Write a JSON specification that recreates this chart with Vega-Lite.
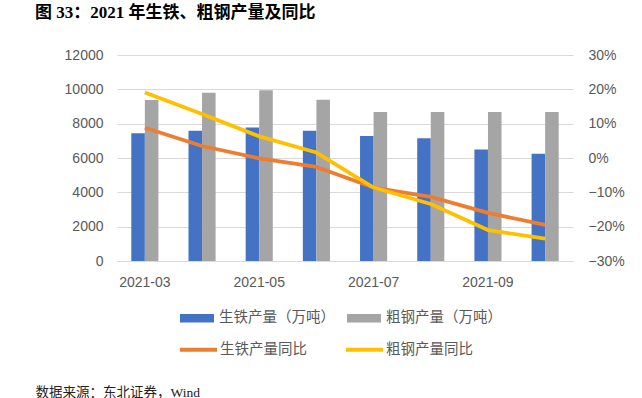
{
  "$schema": "https://vega.github.io/schema/vega-lite/v6.json",
  "width": 456,
  "height": 206,
  "autosize": "none",
  "padding": {"left": 117, "top": 55, "right": 69, "bottom": 137},
  "background": "white",
  "config": {
    "view": {"stroke": null},
    "axis": {"labelColor": "#595959", "labelFont": "Liberation Sans", "labelFontSize": 14, "ticks": false, "gridColor": "#d9d9d9", "domainColor": "#d9d9d9"},
    "legend": {"labelFont": "Noto Sans CJK SC", "labelFontSize": 14.5, "labelColor": "#595959"}
  },
  "title": {
    "text": "图 33：2021 年生铁、粗钢产量及同比",
    "anchor": "start",
    "frame": "group",
    "dx": -82,
    "offset": 26,
    "font": "Liberation Serif, Noto Sans CJK SC",
    "fontSize": 17,
    "fontWeight": "bold",
    "color": "#000000"
  },
  "datasets": {
    "prod": [
      {"month": "2021-03", "series": "生铁产量（万吨）", "value": 7440},
      {"month": "2021-04", "series": "生铁产量（万吨）", "value": 7590},
      {"month": "2021-05", "series": "生铁产量（万吨）", "value": 7770},
      {"month": "2021-06", "series": "生铁产量（万吨）", "value": 7590},
      {"month": "2021-07", "series": "生铁产量（万吨）", "value": 7280},
      {"month": "2021-08", "series": "生铁产量（万吨）", "value": 7150},
      {"month": "2021-09", "series": "生铁产量（万吨）", "value": 6500},
      {"month": "2021-10", "series": "生铁产量（万吨）", "value": 6250},
      {"month": "2021-03", "series": "粗钢产量（万吨）", "value": 9380},
      {"month": "2021-04", "series": "粗钢产量（万吨）", "value": 9800},
      {"month": "2021-05", "series": "粗钢产量（万吨）", "value": 9950},
      {"month": "2021-06", "series": "粗钢产量（万吨）", "value": 9390},
      {"month": "2021-07", "series": "粗钢产量（万吨）", "value": 8680},
      {"month": "2021-08", "series": "粗钢产量（万吨）", "value": 8680},
      {"month": "2021-09", "series": "粗钢产量（万吨）", "value": 8680},
      {"month": "2021-10", "series": "粗钢产量（万吨）", "value": 8680}
    ],
    "yoy": [
      {"month": "2021-03", "series": "生铁产量同比", "value": 0.088},
      {"month": "2021-04", "series": "生铁产量同比", "value": 0.035},
      {"month": "2021-05", "series": "生铁产量同比", "value": -0.001},
      {"month": "2021-06", "series": "生铁产量同比", "value": -0.026},
      {"month": "2021-07", "series": "生铁产量同比", "value": -0.086},
      {"month": "2021-08", "series": "生铁产量同比", "value": -0.113},
      {"month": "2021-09", "series": "生铁产量同比", "value": -0.160},
      {"month": "2021-10", "series": "生铁产量同比", "value": -0.195},
      {"month": "2021-03", "series": "粗钢产量同比", "value": 0.191},
      {"month": "2021-04", "series": "粗钢产量同比", "value": 0.128},
      {"month": "2021-05", "series": "粗钢产量同比", "value": 0.063},
      {"month": "2021-06", "series": "粗钢产量同比", "value": 0.016},
      {"month": "2021-07", "series": "粗钢产量同比", "value": -0.086},
      {"month": "2021-08", "series": "粗钢产量同比", "value": -0.134},
      {"month": "2021-09", "series": "粗钢产量同比", "value": -0.210},
      {"month": "2021-10", "series": "粗钢产量同比", "value": -0.235}
    ]
  },
  "layer": [
    {
      "data": {"name": "prod"},
      "mark": {"type": "bar"},
      "encoding": {
        "x": {
          "field": "month", "type": "nominal",
          "scale": {"paddingInner": 0.526, "paddingOuter": 0.25},
          "axis": {
            "values": ["2021-03", "2021-05", "2021-07", "2021-09"],
            "labelAngle": 0, "labelPadding": 14, "grid": false, "domain": true,
            "title": "数据来源：东北证券，Wind",
            "titleFont": "Liberation Serif, Noto Sans CJK SC",
            "titleFontSize": 13.5, "titleFontWeight": "normal", "titleColor": "#222222",
            "titleAnchor": "start", "titleAlign": "left", "titleBaseline": "alphabetic",
            "titleX": -82, "titleY": 135
          }
        },
        "xOffset": {"field": "series", "type": "nominal", "sort": ["生铁产量（万吨）", "粗钢产量（万吨）"]},
        "y": {
          "field": "value", "type": "quantitative",
          "scale": {"domain": [0, 12000]},
          "axis": {"values": [0, 2000, 4000, 6000, 8000, 10000, 12000], "format": "d", "title": null, "domain": false, "labelPadding": 14, "grid": true}
        },
        "color": {
          "field": "series", "type": "nominal",
          "scale": {"domain": ["生铁产量（万吨）", "粗钢产量（万吨）"], "range": ["#4472C4", "#A5A5A5"]},
          "legend": {
            "orient": "none", "legendX": 62, "legendY": 245, "direction": "horizontal", "columns": 2,
            "title": null, "symbolType": "M-1,-0.25H1V0.25H-1Z", "symbolSize": 1156,
            "labelOffset": 4, "columnPadding": 11
          }
        }
      }
    },
    {
      "data": {"name": "yoy"},
      "mark": {"type": "line", "strokeWidth": 3.8, "interpolate": "linear", "strokeJoin": "round"},
      "encoding": {
        "x": {"field": "month", "type": "nominal", "bandPosition": 0.5},
        "y": {
          "field": "value", "type": "quantitative",
          "scale": {"domain": [-0.3, 0.3]},
          "axis": {"orient": "right", "values": [-0.3, -0.2, -0.1, 0, 0.1, 0.2, 0.3], "format": ".0%", "title": null, "domain": false, "grid": false, "labelPadding": 15}
        },
        "color": {
          "field": "series", "type": "nominal",
          "scale": {"domain": ["生铁产量同比", "粗钢产量同比"], "range": ["#ED7D31", "#FFC000"]},
          "legend": {
            "orient": "none", "legendX": 61, "legendY": 274, "direction": "horizontal", "columns": 2,
            "title": null, "symbolType": "stroke", "symbolSize": 1369, "symbolStrokeWidth": 4,
            "labelOffset": 1, "columnPadding": 31
          }
        }
      }
    }
  ],
  "resolve": {"scale": {"y": "independent", "color": "independent"}}
}
